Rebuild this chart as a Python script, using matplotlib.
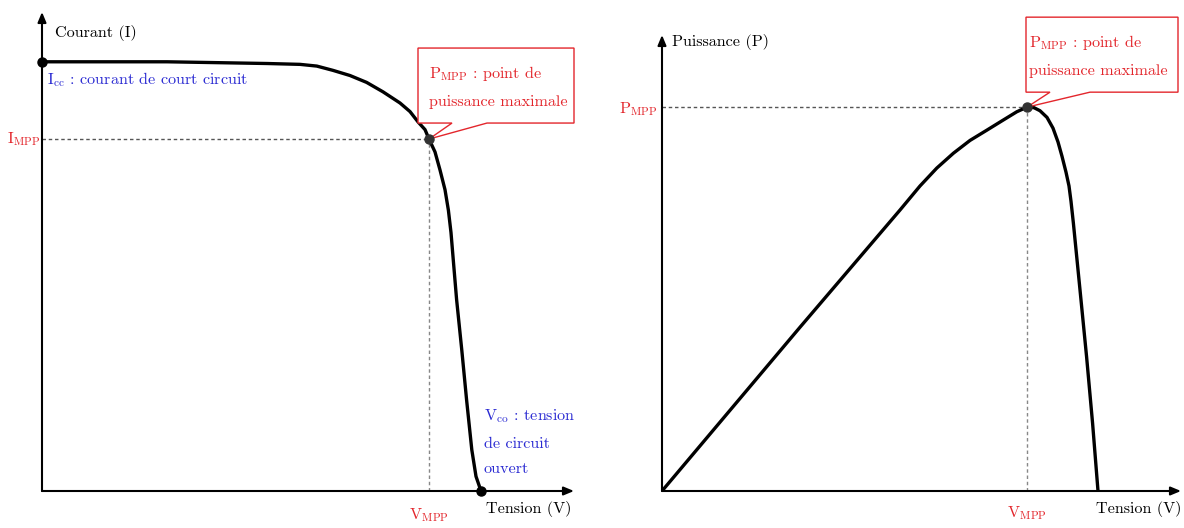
import matplotlib
matplotlib.use("Agg")
import matplotlib.pyplot as plt
from matplotlib.patches import Polygon
from matplotlib.transforms import ScaledTranslation

plt.rcParams["font.family"] = "cmr10"
plt.rcParams["mathtext.fontset"] = "cm"
plt.rcParams["axes.unicode_minus"] = False

# I-V characteristic of the panel
v_iv = [0.0, 6.25, 11.25, 12.9, 13.74, 14.55, 15.4, 16.23, 17.05, 17.9, 18.4, 18.8, 19.15,
        19.35, 19.65, 19.9, 20.15, 20.32, 20.45, 20.55, 20.73, 20.99, 21.23, 21.49, 21.7, 21.95]
i_iv = [5.00, 5.00, 4.98, 4.97, 4.95, 4.90, 4.84, 4.76, 4.65, 4.52, 4.42, 4.30, 4.21,
        4.10, 3.95, 3.74, 3.51, 3.27, 3.01, 2.73, 2.23, 1.64, 1.06, 0.48, 0.17, 0.0]
i_cc = 5.00
v_co = 21.95
v_mpp_iv = 19.35
i_mpp = 4.10

# P-V characteristic
v_pv = [0.0, 6.9, 11.9, 12.9, 13.74, 14.57, 15.4, 16.24, 17.07, 17.74, 18.25, 18.6, 18.9,
        19.25, 19.55, 19.8, 20.0, 20.2, 20.35, 20.45, 20.57, 20.9, 21.23, 21.53, 21.8]
p_pv = [0.0, 32.0, 54.9, 59.6, 63.1, 66.0, 68.5, 70.5, 72.5, 74.1, 75.0, 74.9, 74.3,
        73.0, 70.9, 68.2, 65.4, 62.3, 59.6, 56.6, 52.3, 39.3, 26.2, 13.2, 0.0]
v_mpp_pv = 18.25
p_mpp = 75.0

RED = "#e3262c"
BLUE = "#2a2ad2"
FS = 11.6

fig = plt.figure(figsize=(11.84, 5.28), dpi=100)
ax1 = fig.add_axes([42 / 1184, 37 / 528, 532 / 1184, 479 / 528])
ax2 = fig.add_axes([662 / 1184, 37 / 528, 519 / 1184, 456 / 528])
ax1.set_xlim(0, 26.6)
ax1.set_ylim(0, 5.58)
ax2.set_xlim(0, 25.95)
ax2.set_ylim(0, 89.1)


def draw_axes(ax, ylabel, label_off, xlabel_right):
    ax.axis("off")
    arrow = dict(arrowstyle="-|>,head_length=0.6,head_width=0.25", color="black", lw=1.5,
                 shrinkA=0, shrinkB=0)
    ax.annotate("", xy=(1, 0), xytext=(0, 0), xycoords="axes fraction", arrowprops=arrow)
    ax.annotate("", xy=(0, 1), xytext=(0, 0), xycoords="axes fraction", arrowprops=arrow)
    fig.text(xlabel_right / 1184, (528 - 509) / 528, "Tension (V)", ha="right", va="center",
             fontsize=FS)
    ax.annotate(ylabel, xy=(0, 1), xycoords="axes fraction", xytext=label_off,
                textcoords="offset pixels", ha="left", va="center", fontsize=FS)


def callout(ax, x, y, box, base, text_dx):
    # speech bubble: box with a pointer down to the point (offsets in pixels)
    x0, x1, yb, yt = box
    b1, b2 = base
    verts = [(x0, yb), (b1, yb), (0, 0), (b2, yb), (x1, yb), (x1, yt), (x0, yt)]
    bubble = Polygon(verts, closed=True, fc="white", ec=RED, lw=1, zorder=5, clip_on=False,
                     transform=ScaledTranslation(x, y, ax.transData))
    ax.add_patch(bubble)
    ax.annotate(r"$\mathrm{P}_{\mathrm{MPP}}$ : point de" + "\npuissance maximale",
                xy=(x, y), xytext=(text_dx, (yb + yt) / 2 - 1), textcoords="offset pixels",
                ha="left", va="center", color=RED, fontsize=FS, linespacing=2.05, zorder=6)


# Courant / tension
draw_axes(ax1, "Courant (I)", (13, -21), 571)
ax1.plot([0, v_mpp_iv], [i_mpp, i_mpp], ls=(0, (2.5, 2)), color="#555555", lw=1)
ax1.plot([v_mpp_iv, v_mpp_iv], [0, i_mpp], ls=(0, (2.5, 2)), color="#888888", lw=1)
ax1.plot(v_iv, i_iv, color="black", lw=2.4, solid_joinstyle="round", solid_capstyle="round",
         zorder=3)
ax1.plot([0, v_co], [i_cc, 0], "o", color="black", ms=6.5, ls="none", zorder=4, clip_on=False)
ax1.plot([v_mpp_iv], [i_mpp], "o", color="#333333", ms=6.5, zorder=7)
ax1.annotate(r"$\mathrm{I}_{\mathrm{cc}}$ : courant de court circuit", xy=(0, i_cc),
             xytext=(5, -18), textcoords="offset pixels", ha="left", va="center",
             color=BLUE, fontsize=FS)
ax1.annotate("$\\mathrm{V}_{\\mathrm{co}}$ : tension\nde circuit\nouvert", xy=(v_co, 0),
             xytext=(3, 49), textcoords="offset pixels", ha="left", va="center",
             color=BLUE, fontsize=FS, linespacing=2.1)
ax1.annotate(r"$\mathrm{I}_{\mathrm{MPP}}$", xy=(0, i_mpp), xytext=(-1, 0),
             textcoords="offset pixels", ha="right", va="center", color=RED, fontsize=FS)
ax1.annotate(r"$\mathrm{V}_{\mathrm{MPP}}$", xy=(v_mpp_iv, 0), xytext=(0, -24),
             textcoords="offset pixels", ha="center", va="center", color=RED, fontsize=FS)
callout(ax1, v_mpp_iv, i_mpp, (-11, 145, 16, 91), (23, 58), 0)

# Puissance / tension
draw_axes(ax2, "Puissance (P)", (10, -7), 1181)
ax2.plot([0, v_mpp_pv], [p_mpp, p_mpp], ls=(0, (2.5, 2)), color="#555555", lw=1)
ax2.plot([v_mpp_pv, v_mpp_pv], [0, p_mpp], ls=(0, (2.5, 2)), color="#888888", lw=1)
ax2.plot(v_pv, p_pv, color="black", lw=2.4, solid_joinstyle="round", solid_capstyle="round",
         zorder=3)
ax2.plot([v_mpp_pv], [p_mpp], "o", color="#333333", ms=6.5, zorder=7)
ax2.annotate(r"$\mathrm{P}_{\mathrm{MPP}}$", xy=(0, p_mpp), xytext=(-4, -2),
             textcoords="offset pixels", ha="right", va="center", color=RED, fontsize=FS)
ax2.annotate(r"$\mathrm{V}_{\mathrm{MPP}}$", xy=(v_mpp_pv, 0), xytext=(0, -22),
             textcoords="offset pixels", ha="center", va="center", color=RED, fontsize=FS)
callout(ax2, v_mpp_pv, p_mpp, (-1, 151, 15, 90), (23, 63), 2)

fig.savefig("out.png", dpi=100, facecolor="white")
